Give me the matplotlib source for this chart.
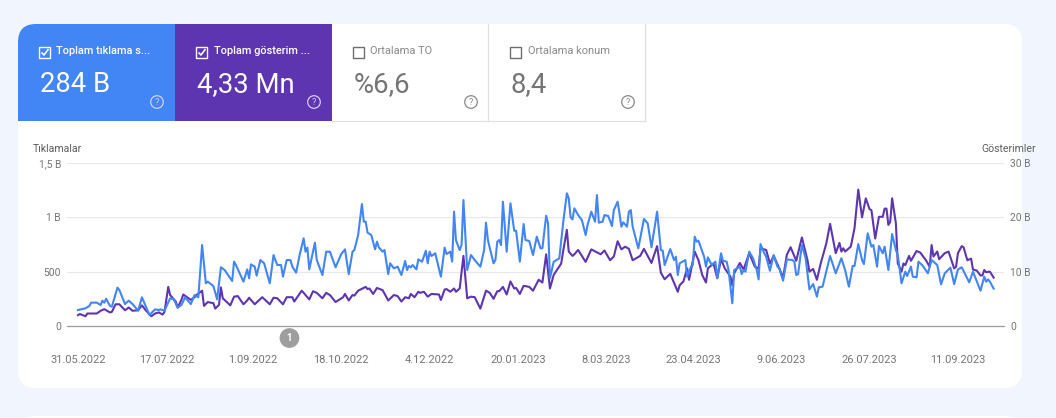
import matplotlib
matplotlib.use("Agg")
import matplotlib.pyplot as plt
from matplotlib.patches import FancyBboxPatch, Rectangle, Circle

plt.rcParams['font.family'] = ['Roboto', 'DejaVu Sans']

# Data: days since 31.05.2022 and the value
click_days = [0,4,6,7,10,12,13,14,15,17,18,21,22,25,27,29,32,34,35,38,41,43,44,46,49,51,53,55,57,60,62,64,66,68,69,72,74,76,78,82,83,84,88,90,91,92,94,95,97,99,102,104,106,108,109,111,113,114,116,118,120,121,122,123,126,127,130,132,134,137,140,142,144,146,147,149,151,152,153,154,156,158,159,160,
162,163,165,166,168,170,172,174,175,176,177,178,180,181,183,185,186,187,188,190,193,195,196,198,199,200,201,203,204,205,207,209,211,214,216,217,218,221,222,223,224,225,226,228,230,232,233,235,237,238,240,242,244,246,247,249,250,251,253,256,258,260,261,262,263,264,266,268,270,271,273,274,275,276,277,279,280,282,284,285,287,288,289,290,292,293,294,295,298,301,303,305,308,310,311,312,315,317,318,319,320,323,324,
326,327,328,329,330,333,334,335,337,339,340,342,343,345,346,348,349,352,353,354,355,357,359,361,362,363,365,366,368,370,372,373,375,377,380,381,382,383,385,387,389,391,393,394,396,400,403,406,408,410,412,413,415,417,418,420,422,423,425,426,428,429,431,433,435,436,438,440,441,443,444,446,447,449,452,454,457,459,461,464,466,468,470,474,476,480,482,483,484,485,487]
clicks = [147,163,184,215,215,193,233,215,251,184,178,353,331,202,233,202,141,264,224,101,153,147,153,141,255,245,169,193,264,202,285,264,745,393,408,368,245,540,515,414,592,561,408,521,439,567,546,463,607,577,393,653,561,561,454,607,607,546,491,662,807,684,721,521,767,607,469,684,684,540,662,705,478,684,699,837,1122,960,960,859,837,705,776,724,
684,699,478,577,531,546,469,598,515,552,540,561,521,613,592,693,577,684,644,669,454,721,662,684,592,1052,791,699,745,1159,515,653,607,546,699,951,791,577,607,776,791,745,1144,684,1129,877,877,592,938,791,782,653,822,715,715,1015,945,439,592,623,945,1221,1175,1000,981,1083,1021,975,837,929,1052,1006,960,1205,951,960,1021,1012,920,1067,1144,1037,914,954,914,1052,1067,914,715,985,945,724,1052,699,693,561,708,607,638,469,577,607,454,
546,561,822,776,785,638,546,632,561,592,439,669,601,592,515,209,515,546,478,515,500,684,623,515,429,754,669,638,509,653,546,531,417,613,607,592,469,478,745,623,337,386,270,356,362,644,485,623,515,362,552,552,754,607,570,853,730,745,546,736,669,730,515,846,699,653,393,500,460,546,454,448,592,561,485,607,561,383,485,537,386,521,540,402,500,325,454,408,429,408,344]

impression_days = [0,1,4,5,10,12,14,17,18,20,22,25,27,29,32,34,36,39,41,43,45,46,48,49,52,53,55,56,60,62,63,66,67,69,72,73,75,76,77,81,83,85,88,90,91,94,98,102,104,106,109,111,114,115,119,123,125,127,130,132,134,137,141,142,144,146,147,149,153,154,155,157,159,
162,165,168,170,172,174,176,177,179,181,182,184,186,188,192,193,195,196,198,200,201,203,205,207,209,211,214,217,219,221,223,224,226,228,230,232,233,235,237,240,242,245,247,249,251,253,257,258,260,261,263,264,266,270,273,278,280,283,285,287,289,291,293,295,299,301,305,308,310,312,315,319,320,322,324,325,
328,330,332,334,335,338,340,342,344,347,348,349,352,354,357,360,362,363,366,368,370,373,375,377,379,382,385,388,389,391,393,395,398,400,403,405,406,407,408,411,413,415,417,419,421,422,424,426,428,429,430,431,432,433,435,436,438,439,440,442,443,446,448,451,453,454,455,457,458,461,463,466,467,468,470,471,473,475,476,478,480,481,482,483,485,487]
impressions = [2.0,2.2,1.8,2.3,2.3,2.8,3.1,2.5,2.6,4.0,4.0,2.9,3.4,2.8,2.9,3.8,2.9,1.8,2.3,2.5,2.1,2.6,7.2,5.7,4.5,3.4,4.8,5.8,4.8,5.3,5.7,6.5,3.7,4.4,4.2,3.2,3.9,7.1,5.1,3.8,5.4,5.5,4.0,4.7,5.2,4.0,5.3,4.0,5.2,5.1,4.0,5.3,5.3,4.5,6.5,4.9,6.4,6.1,5.1,6.1,5.7,4.4,5.3,5.9,4.7,5.7,5.6,6.5,7.2,6.8,6.9,5.9,7.0,
6.6,4.7,5.7,5.5,4.5,5.3,5.1,5.9,5.3,6.3,6.1,6.3,5.4,5.9,5.8,4.8,6.7,6.8,6.3,6.9,6.3,6.9,12.9,5.1,5.4,5.3,3.2,6.5,6.1,5.0,6.4,6.4,7.2,5.8,8.2,6.9,7.0,5.9,7.4,7.2,6.5,8.5,8.0,13.2,6.9,9.4,11.5,13.7,17.7,13.7,12.9,13.2,14.0,11.8,14.1,13.2,13.9,12.1,12.8,15.6,14.1,14.6,14.2,12.1,12.9,14.2,11.6,14.7,9.8,8.6,9.6,6.3,7.5,8.2,10.6,8.5,
13.7,12.1,9.4,8.0,10.6,11.5,8.8,12.3,10.6,9.1,7.5,9.7,11.6,10.4,13.4,10.9,10.6,14.3,14.0,11.5,12.9,10.6,8.9,13.1,14.5,12.0,16.3,12.1,10.0,10.5,8.5,11.5,15.2,18.8,13.4,15.3,13.7,14.3,13.7,14.6,18.0,25.1,20.0,23.5,21.5,21.3,16.1,20.1,20.1,21.6,21.6,18.6,19.2,23.5,18.9,11.5,10.0,11.5,11.2,12.9,12.0,13.8,13.5,12.1,10.9,14.9,12.8,13.7,12.3,13.4,13.7,10.6,10.9,13.4,14.7,14.5,12.1,12.4,10.4,10.2,9.3,9.3,10.3,9.9,10.0,8.9]

date_ticks = [0,47,93,140,187,234,281,327,374,421,468]
date_labels = ["31.05.2022","17.07.2022","1.09.2022","18.10.2022","4.12.2022","20.01.2023","8.03.2023","23.04.2023","9.06.2023","26.07.2023","11.09.2023"]
left_ticks = [0,500,1000,1500]
left_labels = ["0","500","1 B","1,5 B"]
right_ticks = [0,10,20,30]
right_labels = ["0","10 B","20 B","30 B"]
annotation_day = 113

tile_titles = ["Toplam tıklama s...","Toplam gösterim ...","Ortalama TO","Ortalama konum"]
tile_values = ["284 B","4,33 Mn","%6,6","8,4"]
tile_checked = [True,True,False,False]

BLUE = "#4285f4"; PURPLE = "#5e35b1"; GREY = "#757575"; BG = "#f1f5fd"
W, H = 1056, 418

fig = plt.figure(figsize=(W/100, H/100), dpi=100, facecolor=BG)

# page furniture, laid out in pixels
bg = fig.add_axes([0,0,1,1], zorder=0)
bg.set_xlim(0,W); bg.set_ylim(H,0); bg.axis("off")
def card(y0,y1,fc="white"):
    r = 18
    bg.add_patch(FancyBboxPatch((18+r,y0+r),1004-2*r,y1-y0-2*r,boxstyle=f"round,pad={r},rounding_size={r}",fc=fc,ec="none"))
card(24,388)
card(416,470)
# blue tile with rounded top-left corner
r = 18
bg.add_patch(FancyBboxPatch((18+r,24+r),157-r-r+r,97-2*r,boxstyle=f"round,pad={r},rounding_size={r}",fc=BLUE,ec="none"))
bg.add_patch(Rectangle((18,60),157,61,fc=BLUE,ec="none"))
bg.add_patch(Rectangle((100,24),75,97,fc=BLUE,ec="none"))
bg.add_patch(Rectangle((175,24),157,97,fc=PURPLE,ec="none"))
for x in (487.8,644.8):
    bg.plot([x,x],[24,121],color="#e0e0e0",lw=0.9)
bg.plot([332,645],[120.5,120.5],color="#e0e0e0",lw=0.9)

tile_x = [18,175,332,489]
for x0,title,val,chk in zip(tile_x,tile_titles,tile_values,tile_checked):
    col = "white" if chk else GREY
    bg.add_patch(Rectangle((x0+20.8,46.5),11.5,11.5,fc="none",ec="white" if chk else "#6f6f6f",lw=1.0))
    if chk:
        bg.plot([x0+23.5,x0+26,x0+30.5],[52.5,55,49],color="white",lw=1.2,solid_capstyle="butt")
    bg.text(x0+38.5,51.5,title,color="white" if chk else "#8a8a8a",fontsize=7.95,fontweight="medium" if chk else "normal",va="center",ha="left")
    bg.text(x0+22,85,val,color=col,fontsize=19.8,va="center",ha="left")
    ic = "#d5cdf0" if chk else "#8a8a8a"
    bg.add_patch(Circle((x0+139,102),6.3,fc="none",ec=ic,lw=0.9))
    bg.text(x0+139,102.3,"?",color=ic,fontsize=6.5,ha="center",va="center")

bg.text(33,148.5,"Tıklamalar",color="#5f5f5f",fontsize=7.6,va="center",ha="left")
bg.text(1036,148.5,"Gösterimler",color="#5f5f5f",fontsize=7.6,va="center",ha="right")

# chart
rect = [67/W,(H-326)/H,(1004-67)/W,163/H]
ax2 = fig.add_axes(rect, zorder=1)
ax = fig.add_axes(rect, zorder=2)
ax.patch.set_visible(False); ax2.patch.set_visible(False)

ax2.plot(impression_days,impressions,color=PURPLE,lw=1.5,solid_joinstyle="round")
ax.plot(click_days,clicks,color=BLUE,lw=1.5,solid_joinstyle="round")

xlim = (-5.85,492.5)
ax.set_xlim(xlim); ax2.set_xlim(xlim)
ax.set_ylim(0,1500); ax2.set_ylim(0,30)

ax.set_yticks(left_ticks,left_labels,color=GREY,fontsize=7.4)
ax.tick_params(axis="y",length=0,pad=4.4)
ax2.yaxis.tick_right()
ax2.set_yticks(right_ticks,right_labels,color=GREY,fontsize=7.4)
ax2.tick_params(axis="y",length=0,pad=4.4)
ax2.grid(axis="y",color="#e8e8e8",lw=0.8)
ax2.set_axisbelow(True)
ax.set_xticks(date_ticks,date_labels,color=GREY,fontsize=7.95)
ax.tick_params(axis="x",length=0,pad=21)
ax2.tick_params(axis="x",length=0,labelbottom=False)
for a in (ax,ax2):
    for s in ("top","left","right"):
        a.spines[s].set_visible(False)
ax.spines["bottom"].set_color("#9e9e9e"); ax.spines["bottom"].set_linewidth(0.9)
ax2.spines["bottom"].set_visible(False)

ax.annotate("1",xy=(annotation_day,0),xytext=(-1,-12),xycoords="data",textcoords="offset pixels",
            ha="center",va="center",color="white",fontsize=7,fontweight="bold",annotation_clip=False,
            bbox=dict(boxstyle="circle,pad=0.5",fc="#9e9e9e",ec="none"))

fig.savefig("out.png",dpi=100,facecolor=BG)
